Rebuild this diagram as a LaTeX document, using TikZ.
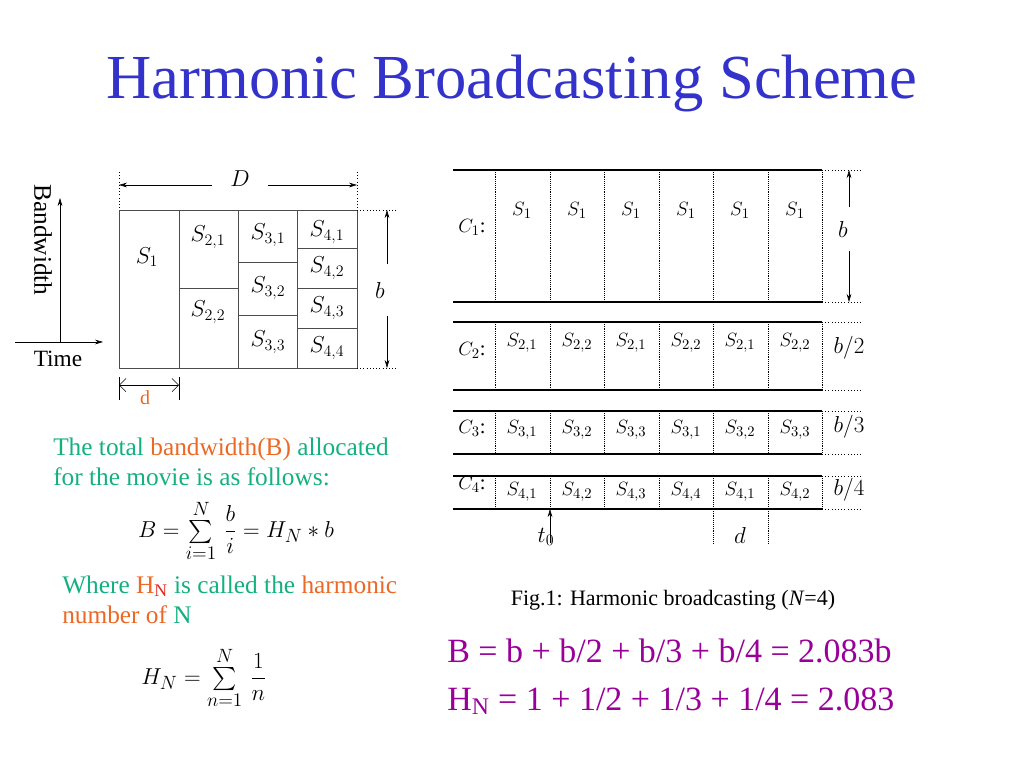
\documentclass[tikz,border=0pt]{standalone}
\usepackage{amsmath}
\usepackage{fontspec}
\setmainfont{Liberation Serif}
\usetikzlibrary{arrows.meta}
\definecolor{titleBlue}{RGB}{51,51,204}
\definecolor{textGreen}{RGB}{20,176,128}
\definecolor{textOrange}{RGB}{236,104,36}
\definecolor{subRed}{RGB}{230,40,30}
\definecolor{eqPurple}{RGB}{153,0,153}
\tikzset{
  cell/.style={font=\fontsize{17}{20}\selectfont},
  slot/.style={font=\fontsize{15.5}{18}\selectfont},
  rate/.style={font=\fontsize{18}{21}\selectfont},
  body/.style={anchor=base west,font=\fontsize{19}{23}\selectfont,inner sep=0pt},
  chan/.style={line width=1.9pt},
  sep/.style={densely dotted,thin},
  ext/.style={dotted,thin},
  tip/.style={-{Stealth[length=6pt,width=3.5pt]}}
}
\begin{document}
\begin{tikzpicture}[x=0.75pt,y=-0.75pt]
\useasboundingbox (0,0) rectangle (1024,768);
\node[titleBlue,font=\fontsize{47}{56}\selectfont] (title) at (512,84) {Harmonic Broadcasting Scheme};

% left: bandwidth by time
\coordinate (bwTop) at (60,198);
\coordinate (timeEnd) at (103,342);
\draw[tip] (60,342) -- (bwTop);
\draw[tip] (15,342) -- (timeEnd);
\node[rotate=-90,font=\fontsize{19}{22}\selectfont] (bwLbl) at (43,240) {Bandwidth};
\node[font=\fontsize{17.5}{20}\selectfont] (timeLbl) at (58,359) {Time};
\draw[black!70] (119,210) rectangle (357,368);
\foreach \x in {179,238,297} \draw[black!70] (\x,210) -- (\x,368);
\draw[black!70] (179,288) -- (238,288);
\foreach \y in {262,315} \draw[black!70] (238,\y) -- (297,\y);
\foreach \y in {248,288,328} \draw[black!70] (297,\y) -- (357,\y);
\foreach \lbl/\x/\y [count=\i] in {{S_1}/147/257, {S_{2,1}}/208/237, {S_{2,2}}/208/312,
    {S_{3,1}}/268/235, {S_{3,2}}/268/288, {S_{3,3}}/268/342,
    {S_{4,1}}/327/232, {S_{4,2}}/327/268, {S_{4,3}}/327/308, {S_{4,4}}/327/348}
  \node[cell] (cell\i) at (\x,\y) {$\lbl$};
% D and b
\draw[ext] (119,172) -- (119,210);
\draw[ext] (357,172) -- (357,210);
\node[cell,minimum width=41pt] (dLbl) at (240,179) {$D$};
\coordinate (dLeft) at (119,185);
\coordinate (dRight) at (357,185);
\draw[tip] (dLbl.west |- dLeft) -- (dLeft);
\draw[tip] (dLbl.east |- dRight) -- (dRight);
\draw[ext] (357,210) -- (398,210);
\draw[ext] (357,368) -- (398,368);
\node[cell,minimum height=38pt] (bLbl) at (380,290) {$b$};
\coordinate (bUp) at (387,210);
\coordinate (bDown) at (387,368);
\draw[tip] (bLbl.north -| bUp) -- (bUp);
\draw[tip] (bLbl.south -| bDown) -- (bDown);
% d
\draw (119,377) -- (119,400);
\draw (179,377) -- (179,400);
\coordinate (segStart) at (119,385);
\coordinate (segEnd) at (179,385);
\draw[{Straight Barb[length=5pt]}-{Straight Barb[length=5pt]}] (segStart) -- (segEnd);
\node[textOrange,font=\fontsize{15}{18}\selectfont] (segLbl) at (145,398) {d};

% left text
\node[body,textGreen] (lineA) at (53,455) {The total \textcolor{textOrange}{bandwidth(B)} allocated};
\node[body,textGreen] (lineB) at (53,485) {for the movie is as follows:};
\node[font=\fontsize{19}{22}\selectfont] (sumB) at (236,531) {$B=\sum\limits_{i=1}^{N}\,\dfrac{b}{i}=H_N*b$};
\node[body,textGreen] (lineC) at (62,593) {Where \textcolor{textOrange}{H}\textcolor{subRed}{\textsubscript{N}} is called the \textcolor{textOrange}{harmonic}};
\node[body,textOrange] (lineD) at (62,623) {number of \textcolor{textGreen}{N}};
\node[font=\fontsize{19}{22}\selectfont] (sumH) at (204,678) {$H_N=\sum\limits_{n=1}^{N}\,\dfrac{1}{n}$};

% right: channels
\foreach \top/\bot in {170/302, 322/390, 411/454, 476/509} {
  \draw[chan] (453,\top) -- (822,\top);
  \draw[chan] (453,\bot) -- (822,\bot);
  \draw[ext] (822,\top) -- (862,\top);
  \draw[ext] (822,\bot) -- (862,\bot);
  \foreach \x in {495,550,604,659,713,768,822} \draw[sep] (\x,\top) -- (\x,\bot);
}
\foreach \x [count=\i] in {522,577,631,686,740,795}
  \node[slot] (cOne\i) at (\x,210) {$S_1$};
\foreach \x/\j [count=\i] in {522/1,577/2,631/1,686/2,740/1,795/2}
  \node[slot] (cTwo\i) at (\x,343) {$S_{2,\j}$};
\foreach \x/\j [count=\i] in {522/1,577/2,631/3,686/1,740/2,795/3}
  \node[slot] (cThree\i) at (\x,430) {$S_{3,\j}$};
\foreach \x/\j [count=\i] in {522/1,577/2,631/3,686/4,740/1,795/2}
  \node[slot] (cFour\i) at (\x,492) {$S_{4,\j}$};
\foreach \y/\k [count=\i] in {227/1,350/2,428/3,484/4}
  \node[slot] (chan\i) at (472,\y) {$C_\k$:};
\node[rate,minimum height=33pt] (rbLbl) at (843,229) {$b$};
\coordinate (rbUp) at (849,170);
\coordinate (rbDown) at (849,302);
\draw[tip] (rbLbl.north -| rbUp) -- (rbUp);
\draw[tip] (rbLbl.south -| rbDown) -- (rbDown);
\node[rate] (rateTwo) at (849,348) {$b/2$};
\node[rate] (rateThree) at (849,427) {$b/3$};
\node[rate] (rateFour) at (849,490) {$b/4$};
\draw[sep] (713,509) -- (713,543);
\draw[sep] (768,509) -- (768,543);
\node[rate] (slotLbl) at (740,535) {$d$};
\coordinate (tZero) at (550,509);
\draw[tip] (550,543) -- (tZero);
\node[rate] (tZeroLbl) at (546,537) {$t_0$};
\node[font=\fontsize{16.5}{20}\selectfont] (caption) at (673,600) {Fig.1: Harmonic broadcasting (\textit{N}=4)};

% right text
\node[anchor=base west,inner sep=0pt,eqPurple,font=\fontsize{25.5}{30}\selectfont] (eqB) at (447,662) {B = b + b/2 + b/3 + b/4 = 2.083b};
\node[anchor=base west,inner sep=0pt,eqPurple,font=\fontsize{25.5}{30}\selectfont] (eqH) at (447,710) {H\textsubscript{N} = 1 + 1/2 + 1/3 + 1/4 = 2.083};
\end{tikzpicture}
\end{document}
